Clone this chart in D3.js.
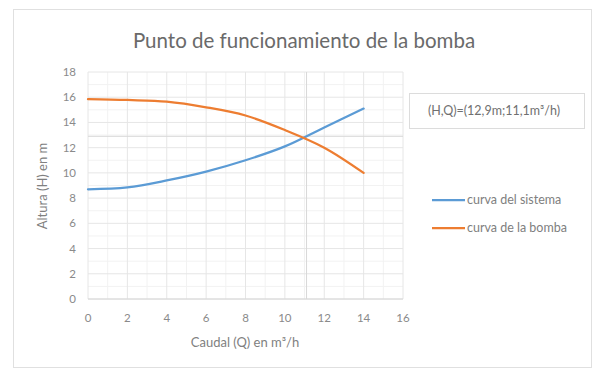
<!DOCTYPE html>
<html>
<head>
<meta charset="utf-8">
<script src="https://cdn.jsdelivr.net/npm/d3@7"></script>
<style>
  html, body { margin: 0; padding: 0; background: #fff; }
  svg { display: block; font-family: "Lato", "Open Sans", sans-serif; }
</style>
</head>
<body>
<svg id="chart" width="594" height="371"></svg>
<script>
// Flow rate Q (m³/h) at which both curves are sampled
const caudal = [0, 2, 4, 6, 8, 10, 12, 14];
// System curve head H (m)
const curvaSistema = [8.7, 8.85, 9.4, 10.1, 11.0, 12.1, 13.6, 15.1];
// Pump curve head H (m)
const curvaBomba = [15.85, 15.78, 15.65, 15.2, 14.55, 13.4, 12.0, 10.0];
// Operating point (H, Q)
const puntoH = 12.9;
const puntoQ = 11.1;
const xTicks = [0, 2, 4, 6, 8, 10, 12, 14, 16];
const yTicks = [0, 2, 4, 6, 8, 10, 12, 14, 16, 18];
const seriesNames = ["curva del sistema", "curva de la bomba"];
const seriesColors = ["#5b9bd5", "#ed7d31"];

const svg = d3.select("#chart");

// chart frame
svg.append("rect").attr("x", 13.5).attr("y", 9.5).attr("width", 578).attr("height", 358)
  .attr("fill", "#fff").attr("stroke", "#e0e0e0").attr("stroke-width", 1);

const x = d3.scaleLinear().domain([0, 16]).range([88, 403]);
const y = d3.scaleLinear().domain([0, 18]).range([299, 72]);

const g = svg.append("g");

// minor gridlines every unit
const minorX = d3.range(1, 16, 2);
const minorY = d3.range(1, 18, 2);
g.selectAll("line.minx").data(minorX).join("line")
  .attr("x1", d => x(d)).attr("x2", d => x(d)).attr("y1", y(0)).attr("y2", y(18))
  .attr("stroke", "#f2f2f2").attr("stroke-width", 1);
g.selectAll("line.miny").data(minorY).join("line")
  .attr("y1", d => y(d)).attr("y2", d => y(d)).attr("x1", x(0)).attr("x2", x(16))
  .attr("stroke", "#f2f2f2").attr("stroke-width", 1);

// major gridlines
g.selectAll("line.majx").data(xTicks).join("line")
  .attr("x1", d => x(d)).attr("x2", d => x(d)).attr("y1", y(0)).attr("y2", y(18))
  .attr("stroke", "#e6e6e6").attr("stroke-width", 1);
g.selectAll("line.majy").data(yTicks).join("line")
  .attr("y1", d => y(d)).attr("y2", d => y(d)).attr("x1", x(0)).attr("x2", x(16))
  .attr("stroke", "#e6e6e6").attr("stroke-width", 1);

// operating point guide lines
g.append("line").attr("x1", x(0)).attr("x2", x(16)).attr("y1", y(puntoH)).attr("y2", y(puntoH))
  .attr("stroke", "#d8d8d8").attr("stroke-width", 1);
g.append("line").attr("x1", x(puntoQ)).attr("x2", x(puntoQ)).attr("y1", y(0)).attr("y2", y(18))
  .attr("stroke", "#d8d8d8").attr("stroke-width", 1);

// x axis baseline
g.append("line").attr("x1", x(0)).attr("x2", x(16)).attr("y1", y(0)).attr("y2", y(0))
  .attr("stroke", "#d6d6d6").attr("stroke-width", 1);

// tick labels
svg.append("g").selectAll("text").data(xTicks).join("text")
  .attr("x", d => x(d)).attr("y", 322).attr("text-anchor", "middle")
  .attr("font-size", 11.5).attr("fill", "#8a8a8a").text(d => d);
svg.append("g").selectAll("text").data(yTicks).join("text")
  .attr("x", 76).attr("y", d => y(d) + 4).attr("text-anchor", "end")
  .attr("font-size", 11.5).attr("fill", "#8a8a8a").text(d => d);

// curves
const series = [curvaSistema, curvaBomba];
const line = d3.line()
  .x((d, i) => x(caudal[i]))
  .y(d => y(d))
  .curve(d3.curveCatmullRom.alpha(0.5));
svg.append("g").selectAll("path").data(series).join("path")
  .attr("d", d => line(d))
  .attr("fill", "none")
  .attr("stroke", (d, i) => seriesColors[i])
  .attr("stroke-width", 2.25)
  .attr("stroke-linecap", "round");

// title
svg.append("text").attr("x", 304).attr("y", 48).attr("text-anchor", "middle")
  .attr("font-size", 20.5).attr("fill", "#6a6a6a")
  .text("Punto de funcionamiento de la bomba");

// axis titles
svg.append("text").attr("x", 245).attr("y", 347).attr("text-anchor", "middle")
  .attr("font-size", 13).attr("fill", "#808080").text("Caudal (Q) en m³/h");
svg.append("text").attr("transform", "translate(47,186) rotate(-90)").attr("text-anchor", "middle")
  .attr("font-size", 13).attr("fill", "#808080").text("Altura (H) en m");

// operating point label box
svg.append("rect").attr("x", 409.5).attr("y", 93.5).attr("width", 175).attr("height", 35)
  .attr("fill", "#fff").attr("stroke", "#dcdcdc").attr("stroke-width", 1);
svg.append("text").attr("x", 494).attr("y", 115).attr("text-anchor", "middle")
  .attr("font-size", 12.5).attr("fill", "#707070")
  .text(`(H,Q)=(${String(puntoH).replace(".", ",")}m;${String(puntoQ).replace(".", ",")}m³/h)`);

// legend
const legend = svg.append("g").selectAll("g").data(seriesNames).join("g")
  .attr("transform", (d, i) => `translate(432,${200 + i * 28})`);
legend.append("line").attr("x1", 0).attr("x2", 33).attr("y1", 0).attr("y2", 0)
  .attr("stroke", (d, i) => seriesColors[i]).attr("stroke-width", 2.25);
legend.append("text").attr("x", 35).attr("y", 4).attr("font-size", 12.5)
  .attr("fill", "#808080").text(d => d);
</script>
</body>
</html>
